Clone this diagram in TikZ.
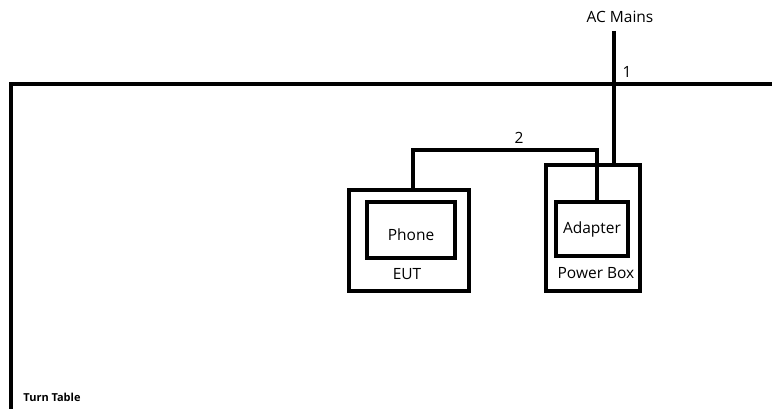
\documentclass[tikz,border=0pt]{standalone}
\usepackage{fontspec}
\setmainfont{Open Sans}
\usetikzlibrary{positioning, calc}

\begin{document}
\begin{tikzpicture}[x=1pt, y=-1pt]
  \tikzset{
    wire/.style={line width=4pt, draw=black},
    boxo/.style={draw=black, line width=4pt, inner sep=0pt},
    lbl/.style={font=\fontsize{15.5}{18}\selectfont, inner sep=0pt}
  }
  \useasboundingbox[fill=white] (0,0) rectangle (772,409);

  % turn table outline
  \coordinate (ttr) at (775,84);
  \coordinate (ttb) at (11,412);
  \draw[wire] (ttr) -| (ttb);
  \node[font=\bfseries\fontsize{11}{13}\selectfont, inner sep=0pt] (tt) at (52,397) {Turn Table};

  % EUT
  \node[boxo, minimum width=120pt, minimum height=101pt] (eut) at (409,240.5) {};
  \node[boxo, minimum width=88pt, minimum height=56pt, lbl] (phone) at (411,230) {\raisebox{-10.5pt}[0pt][0pt]{Phone}};
  \node[lbl] (eutl) at (407,274) {EUT};

  % power box
  \node[boxo, minimum width=94pt, minimum height=126pt] (pbox) at (593,228) {};
  \node[boxo, minimum width=72pt, minimum height=54pt, lbl] (adapter) at (592,229) {\raisebox{-4.5pt}[0pt][0pt]{Adapter}};
  \node[lbl] (pboxl) at (596,273) {Power Box};

  % AC mains
  \node[lbl] (ac) at (620,17) {AC Mains};
  \coordinate (acend) at (614,31);
  \draw[wire] (acend) -- (acend |- pbox.north);
  \node[lbl] (one) at (627,72) {1};

  % cable 2
  \coordinate (k2) at (519,150);
  \draw[wire] ([xshift=5pt]adapter.north) |- (k2) -| ([xshift=4pt]eut.north);
  \node[lbl] (two) at (519,138) {2};
\end{tikzpicture}
\end{document}
